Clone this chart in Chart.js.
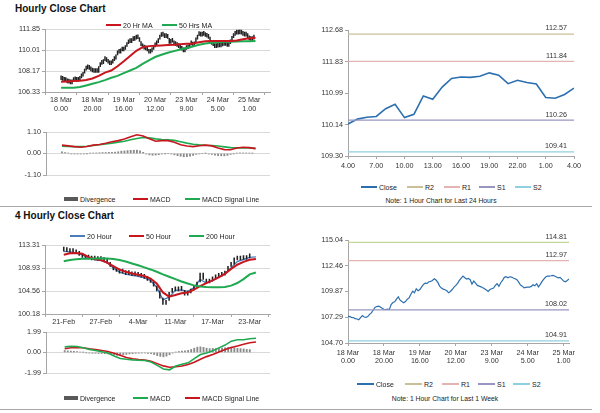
<!DOCTYPE html>
<html>
<head>
<meta charset="utf-8">
<script src="https://cdn.jsdelivr.net/npm/chart.js@4.4.1/dist/chart.umd.min.js"></script>
<style>
  html, body { margin: 0; padding: 0; background: #fff; }
  body { width: 600px; height: 413px; position: relative; overflow: hidden; font-family: 'Liberation Sans', Arial, sans-serif; color: #222; }
  canvas { position: absolute; }
  .title { position: absolute; left: 15px; font-weight: bold; font-size: 10px; line-height: 12px; color: #111; }
  .rule { position: absolute; left: 0; width: 592px; height: 0; border-top: 1.5px solid #a8a8a8; }
  .item { position: absolute; display: flex; align-items: center; height: 10px; font-size: 7px; white-space: nowrap; }
  .sw { display: inline-block; height: 2px; margin-right: 2px; }
  .note { position: absolute; font-size: 6.8px; transform: translateX(-50%); white-space: nowrap; line-height: 9px; }
</style>
</head>
<body>
<div class="title" style="top:3px">Hourly Close Chart</div>
<div class="title" style="top:210px">4 Hourly Close Chart</div>
<div class="rule" style="top:206px"></div>
<div class="rule" style="top:409px"></div>
<canvas id="hour-price" width="280" height="90" style="left:0;top:23px"></canvas>
<canvas id="hour-macd" width="280" height="69" style="left:0;top:125px"></canvas>
<canvas id="h4-price" width="280" height="89" style="left:0;top:239px"></canvas>
<canvas id="h4-macd" width="280" height="67" style="left:0;top:325px"></canvas>
<canvas id="day-close" width="290" height="152" style="left:300px;top:18px"></canvas>
<canvas id="week-close" width="290" height="139" style="left:300px;top:228px"></canvas>
<div class="note" style="left:441px;top:196px">Note: 1 Hour Chart for Last 24 Hours</div>
<div class="note" style="left:445px;top:394px">Note: 1 Hour Chart for Last 1 Week</div>
<script>
// ── Hourly data (18 Mar 0.00 → 25 Mar ~3.00, one point per hour) ──
const hourLabels = [['18 Mar', '0.00'], ['18 Mar', '20.00'], ['19 Mar', '16.00'], ['20 Mar', '12.00'], ['23 Mar', '9.00'], ['24 Mar', '5.00'], ['25 Mar', '1.00']]
const hourTickAt = [0, 20, 40, 60, 80, 100, 120]
const hourClose = [
  107.41, 107.35, 107.28, 107.25, 107.14, 107.11, 107.04, 107.25, 107.45, 107.31,
  107.28, 107.35, 107.58, 107.72, 107.99, 108.26, 108.36, 108.39, 108.32, 108.19,
  108.09, 108.05, 108.09, 108.05, 108.56, 108.76, 108.83, 109.10, 109.33, 109.00,
  108.86, 108.73, 108.86, 109.10, 109.23, 109.60, 109.91, 109.74, 110.14, 109.94,
  110.07, 110.34, 110.58, 110.71, 110.68, 110.85, 110.88, 110.98, 111.15, 111.02,
  110.78, 110.41, 110.21, 110.11, 110.04, 109.94, 109.74, 109.87, 110.07, 110.31,
  110.48, 110.68, 110.98, 111.22, 111.42, 111.25, 111.12, 111.18, 111.05, 110.61,
  110.92, 110.71, 110.48, 110.41, 110.34, 110.24, 110.14, 110.01, 109.87, 110.07,
  110.14, 110.21, 110.48, 110.65, 110.38, 110.75, 110.98, 111.29, 111.35, 111.25,
  111.35, 111.32, 111.22, 111.15, 111.05, 110.81, 110.51, 110.41, 110.24, 110.28,
  110.31, 110.31, 110.38, 110.55, 110.44, 110.65, 110.34, 110.58, 110.88, 111.12,
  111.32, 111.42, 111.42, 111.45, 111.49, 111.42, 111.32, 111.25, 111.29, 111.12,
  110.92, 110.85, 110.98, 111.12,
]
// every 4th hour
const hourMa20 = [107.23, 107.26, 107.29, 107.32, 107.38, 107.52, 107.75, 108.04, 108.22, 108.60, 109.03, 109.50, 109.96, 110.28, 110.37, 110.40, 110.43, 110.46, 110.49, 110.54, 110.57, 110.60, 110.72, 110.80, 110.83, 110.83, 110.83, 110.83, 110.86, 110.98, 111.07, 111.10]
const hourMa50 = [106.71, 106.71, 106.71, 106.77, 106.91, 107.06, 107.20, 107.38, 107.58, 107.75, 107.99, 108.22, 108.45, 108.80, 109.12, 109.41, 109.61, 109.79, 109.93, 110.08, 110.20, 110.34, 110.49, 110.60, 110.66, 110.72, 110.75, 110.75, 110.78, 110.80, 110.80, 110.83]
const hourMacd = [0.43, 0.39, 0.35, 0.32, 0.36, 0.43, 0.46, 0.52, 0.60, 0.66, 0.74, 0.86, 0.96, 0.90, 0.75, 0.63, 0.66, 0.66, 0.58, 0.45, 0.38, 0.35, 0.40, 0.43, 0.39, 0.28, 0.20, 0.19, 0.28, 0.32, 0.30, 0.25]
const hourSignal = [0.37, 0.36, 0.35, 0.35, 0.37, 0.41, 0.45, 0.49, 0.53, 0.58, 0.63, 0.70, 0.77, 0.82, 0.80, 0.75, 0.72, 0.70, 0.67, 0.60, 0.53, 0.47, 0.44, 0.42, 0.41, 0.38, 0.34, 0.30, 0.29, 0.29, 0.28, 0.26]
// every 2nd hour
const hourDiv = [
  0.08, 0.05, 0.02, -0.02, -0.02, -0.03, -0.03, -0.02, -0.01, 0.02,
  0.03, 0.03, 0.04, 0.05, 0.05, 0.06, 0.06, 0.07, 0.09, 0.12,
  0.13, 0.15, 0.16, 0.17, 0.17, 0.14, 0.06, -0.03, -0.07, -0.09,
  -0.08, -0.06, -0.03, -0.01, 0.00, -0.03, -0.07, -0.11, -0.14, -0.17,
  -0.16, -0.14, -0.10, -0.05, -0.02, 0.00, 0.01, -0.02, -0.05, -0.09,
  -0.11, -0.12, -0.12, -0.10, -0.05, -0.01, 0.02, 0.03, 0.03, 0.03,
  0.02, 0.01,
]
const hourPriceTicks = [106.33, 108.17, 110.01, 111.85]
const hourMacdTicks = [-1.10, 0.00, 1.10]

// ── 4-hourly data (21-Feb → 23-Mar) ─────────────────────────
const h4Labels = ['21-Feb', '27-Feb', '4-Mar', '11-Mar', '17-Mar', '23-Mar']
const h4TickAt = [0, 24, 48, 72, 96, 120]
// every 2nd bar
const h4Close = [
  112.2, 112.1, 111.9, 111.9, 111.7, 111.4, 111.0, 110.7, 110.8, 110.5,
  110.6, 110.4, 110.5, 110.2, 109.9, 109.3, 108.6, 108.3, 108.0, 108.2,
  107.7, 107.8, 107.5, 107.6, 107.4, 107.2, 107.0, 106.6, 106.2, 105.5,
  104.6, 103.2, 102.0, 102.8, 104.3, 105.0, 104.6, 104.9, 104.7, 103.8,
  104.2, 104.8, 105.4, 106.3, 108.0, 106.8, 106.1, 106.5, 106.9, 107.2,
  107.4, 107.6, 108.3, 109.3, 109.7, 110.9, 110.5, 110.9, 110.6, 110.9,
  111.0,
]
// every 4th bar
const h4Ma20 = [112.15, 112.05, 111.84, 111.5, 110.9, 110.55, 110.4, 110.0, 109.0, 108.2, 107.8, 107.6, 107.4, 107.1, 106.6, 105.3, 102.9, 103.4, 104.7, 104.8, 104.5, 105.2, 106.8, 106.1, 106.5, 107.3, 107.9, 109.0, 110.2, 110.6, 111.0, 111.1]
const h4Ma50 = [111.52, 111.8, 111.84, 111.7, 111.05, 110.7, 110.5, 110.0, 109.35, 108.65, 108.25, 107.92, 107.7, 107.45, 106.95, 106.0, 104.3, 103.5, 103.8, 104.15, 104.3, 104.85, 105.5, 106.1, 106.6, 107.2, 107.85, 108.8, 109.6, 110.15, 110.55, 110.7]
const h4Ma200 = [110.26, 110.5, 110.64, 110.72, 110.76, 110.8, 110.83, 110.8, 110.7, 110.5, 110.2, 109.85, 109.5, 109.1, 108.7, 108.25, 107.75, 107.3, 106.85, 106.4, 106.0, 105.65, 105.45, 105.35, 105.28, 105.28, 105.35, 105.6, 106.1, 106.85, 107.75, 108.1]
const h4Macd = [0.55, 0.60, 0.58, 0.46, 0.30, 0.20, 0.08, -0.05, -0.33, -0.58, -0.66, -0.72, -0.75, -0.77, -0.92, -1.25, -1.60, -1.68, -1.32, -1.14, -1.00, -0.60, -0.20, -0.05, 0.18, 0.45, 0.72, 1.10, 1.24, 1.24, 1.33, 1.38]
const h4Signal = [0.36, 0.46, 0.48, 0.46, 0.36, 0.28, 0.19, 0.10, -0.07, -0.27, -0.48, -0.61, -0.68, -0.73, -0.85, -1.08, -1.30, -1.43, -1.38, -1.31, -1.17, -0.95, -0.65, -0.40, -0.20, 0.05, 0.28, 0.48, 0.64, 0.80, 0.95, 1.02]
// every 2nd bar
const h4Div = [
  0.19, 0.16, 0.14, 0.12, 0.10, 0.05, 0.02, -0.03, -0.06, -0.08,
  -0.08, -0.10, -0.10, -0.12, -0.14, -0.18, -0.24, -0.28, -0.30, -0.22,
  -0.18, -0.14, -0.11, -0.08, -0.07, -0.06, -0.05, -0.08, -0.12, -0.20,
  -0.30, -0.38, -0.42, -0.35, -0.22, -0.06, 0.04, 0.10, 0.14, 0.17,
  0.20, 0.30, 0.42, 0.52, 0.55, 0.50, 0.42, 0.38, 0.40, 0.38,
  0.40, 0.44, 0.46, 0.50, 0.52, 0.45, 0.40, 0.38, 0.35, 0.30,
  0.28,
]
const h4PriceTicks = [100.18, 104.56, 108.93, 113.31]
const h4MacdTicks = [-1.99, 0.00, 1.99]

// ── Last 24 hours ───────────────────────────────────────────
const dayLabels = ['4.00', '7.00', '10.00', '13.00', '16.00', '19.00', '22.00', '1.00', '4.00']
const dayTickAt = [0, 3, 6, 9, 12, 15, 18, 21, 24]
const dayClose = [110.16, 110.29, 110.34, 110.36, 110.57, 110.69, 110.33, 110.42, 110.91, 110.82, 111.15, 111.38, 111.42, 111.41, 111.44, 111.53, 111.47, 111.24, 111.33, 111.27, 111.23, 110.87, 110.85, 110.95, 111.12]
const dayLevels = [112.57, 111.84, 110.26, 109.41] // R2, R1, S1, S2
const dayTicks = [109.30, 110.14, 110.99, 111.83, 112.68]

// ── Last week (same hourly closes) ──────────────────────────
const weekLevels = [114.81, 112.97, 108.02, 104.91]
const weekTicks = [104.70, 107.29, 109.87, 112.46, 115.04]

// ── Styling ─────────────────────────────────────────────────
const family = "'Liberation Sans', Arial, sans-serif"
const axisFont = { family, size: 7.2 }
const textColor = '#333'
const gridColor = '#d9d9d9'
const axisColor = '#a6a6a6'
const red = '#c8161e'
const green = '#1faa52'
const blue = '#4a7ebb'
const divGray = '#8a8a8a'
const closeBlue = '#2c6fb0'
const dayLevelColors = ['#c9c09a', '#e4b4b3', '#9896c0', '#8fd0e0']
const weekLevelColors = ['#c2d59a', '#e4b4b3', '#9896c0', '#8fd0e0']

// ── Helpers ─────────────────────────────────────────────────
const pts = (arr, step) => arr.map((v, i) => ({ x: i * step, y: v }))
// thin price bars: previous close → close
const priceBars = (arr, step) => arr.map((v, i) => ({ x: i * step, y: [i ? arr[i - 1] : v, v] }))

function line(data, color, width) {
  return { type: 'line', data, borderColor: color, backgroundColor: color, borderWidth: width, pointRadius: 0, tension: 0 }
}
function bar(data, color, thick, minLen) {
  return { type: 'bar', data, backgroundColor: color, borderWidth: 0, barThickness: thick, minBarLength: minLen || 0, grouped: false }
}

function xAxis(max, tickAt, labels, o = {}) {
  return {
    type: 'linear',
    min: 0,
    max,
    display: o.display !== false,
    afterBuildTicks: (s) => { s.ticks = tickAt.map((v) => ({ value: v })) },
    afterFit: (s) => { s.height = o.height || 14 },
    ticks: {
      autoSkip: false, maxRotation: 0, minRotation: 0, padding: o.pad ?? 1,
      color: textColor, font: axisFont,
      callback: (v) => labels[tickAt.indexOf(v)],
    },
    grid: { drawOnChartArea: false, tickLength: 3, color: axisColor },
    border: { color: axisColor },
  }
}

function yAxis(ticks, width, grid = true) {
  return {
    min: ticks[0],
    max: ticks[ticks.length - 1],
    afterBuildTicks: (s) => { s.ticks = ticks.map((v) => ({ value: v })) },
    afterFit: (s) => { s.width = width },
    ticks: { padding: 2, color: textColor, font: axisFont, callback: (v) => v.toFixed(2) },
    grid: { color: gridColor, drawOnChartArea: grid, tickLength: 3, tickColor: axisColor },
    border: { color: axisColor },
  }
}

// value tags above support / resistance lines
const levelTags = {
  id: 'levelTags',
  afterDatasetsDraw(chart, _args, opts) {
    if (!opts.levels) return
    const { ctx, chartArea, scales } = chart
    ctx.save()
    ctx.font = `7.2px ${family}`
    ctx.fillStyle = textColor
    ctx.textAlign = 'right'
    ctx.textBaseline = 'bottom'
    opts.levels.forEach((v) => {
      ctx.fillText(v.toFixed(2), chartArea.right - opts.inset, scales.y.getPixelForValue(v) - 2)
    })
    ctx.restore()
  },
}

function make(id, datasets, scales, padding, extra = {}) {
  return new Chart(document.getElementById(id), {
    type: 'line',
    data: { datasets },
    plugins: [levelTags],
    options: {
      responsive: false,
      animation: false,
      layout: { padding },
      plugins: { legend: { display: false }, tooltip: { enabled: false }, levelTags: extra },
      scales,
    },
  })
}

function legend(cy, items) {
  items.forEach(([x, color, text, kind, w]) => {
    const el = document.createElement('div')
    el.className = 'item'
    el.style.left = `${x}px`
    el.style.top = `${cy - 5}px`
    const sw = document.createElement('span')
    sw.className = 'sw'
    sw.style.width = `${w || 15}px`
    sw.style.background = color
    if (kind === 'box') sw.style.height = '4px'
    el.appendChild(sw)
    el.appendChild(document.createTextNode(text))
    document.body.appendChild(el)
  })
}

// ── Hourly close chart ──────────────────────────────────────
make('hour-price', [
  line(pts(hourMa20, 4), red, 2),
  line(pts(hourMa50, 4), green, 2),
  bar(priceBars(hourClose, 1), '#222', 0.8, 4),
], {
  x: xAxis(123, hourTickAt, hourLabels, { height: 21, pad: 1 }),
  y: yAxis(hourPriceTicks, 45),
}, { top: 6, right: 10, bottom: 0, left: 0 })

make('hour-macd', [
  line(pts(hourMacd, 4), red, 1.6),
  line(pts(hourSignal, 4), green, 1.6),
  bar(pts(hourDiv, 2), divGray, 1.2),
], {
  x: xAxis(123, hourTickAt, hourLabels, { display: false }),
  y: yAxis(hourMacdTicks, 46),
}, { top: 7, right: 10, bottom: 5, left: 0 })

// ── 4 hourly close chart ────────────────────────────────────
make('h4-price', [
  line(pts(h4Ma200, 4), green, 2),
  line(pts(h4Ma50, 4), red, 2),
  bar(priceBars(h4Close, 2), '#222', 0.9, 4),
  line(pts(h4Ma20, 4), blue, 1.4),
], {
  x: xAxis(121, h4TickAt, h4Labels, { height: 14, pad: 1 }),
  y: yAxis(h4PriceTicks, 45),
}, { top: 6, right: 10, bottom: 0, left: 0 })

make('h4-macd', [
  line(pts(h4Macd, 4), green, 1.6),
  line(pts(h4Signal, 4), red, 1.6),
  bar(pts(h4Div, 2), divGray, 1.2),
], {
  x: xAxis(121, h4TickAt, h4Labels, { display: false }),
  y: yAxis(h4MacdTicks, 46),
}, { top: 7, right: 10, bottom: 5, left: 0 })

// ── Support / resistance charts ─────────────────────────────
const levelSets = (levels, colors, max) =>
  levels.map((v, i) => line([{ x: 0, y: v }, { x: max, y: v }], colors[i], 1.3))

make('day-close', [
  ...levelSets(dayLevels, dayLevelColors, 24),
  line(pts(dayClose, 1), closeBlue, 1.6),
], {
  x: xAxis(24, dayTickAt, dayLabels, { height: 14, pad: 3 }),
  y: yAxis(dayTicks, 48, false),
}, { top: 12, right: 16, bottom: 0, left: 0 }, { levels: dayLevels, inset: 7 })

make('week-close', [
  ...levelSets(weekLevels, weekLevelColors, 123),
  line(pts(hourClose, 1), closeBlue, 1.2),
], {
  x: xAxis(123, hourTickAt, hourLabels, { height: 24, pad: 2.5 }),
  y: yAxis(weekTicks, 48, false),
}, { top: 12, right: 21, bottom: 0, left: 0 }, { levels: weekLevels, inset: 2 })

// ── Legends ─────────────────────────────────────────────────
legend(25, [[106, red, '20 Hr MA'], [162, green, '50 Hrs MA']])
legend(199, [[64, '#595959', 'Divergence', 'box', 14], [133, red, 'MACD'], [185, green, 'MACD Signal Line']])
legend(236, [[70, blue, '20 Hour'], [129, red, '50 Hour'], [189, green, '200 Hour']])
legend(398, [[64, '#595959', 'Divergence', 'box', 14], [133, green, 'MACD'], [185, red, 'MACD Signal Line']])
legend(187, [[361, closeBlue, 'Close', 'line', 16], [407, dayLevelColors[0], 'R2', 'line', 16], [444, dayLevelColors[1], 'R1', 'line', 16], [479, dayLevelColors[2], 'S1', 'line', 16], [515, dayLevelColors[3], 'S2', 'line', 16]])
legend(384, [[357, closeBlue, 'Close', 'line', 17], [405, dayLevelColors[0], 'R2', 'line', 17], [442, weekLevelColors[1], 'R1', 'line', 17], [478, weekLevelColors[2], 'S1', 'line', 17], [513, weekLevelColors[3], 'S2', 'line', 17]])
</script>
</body>
</html>
